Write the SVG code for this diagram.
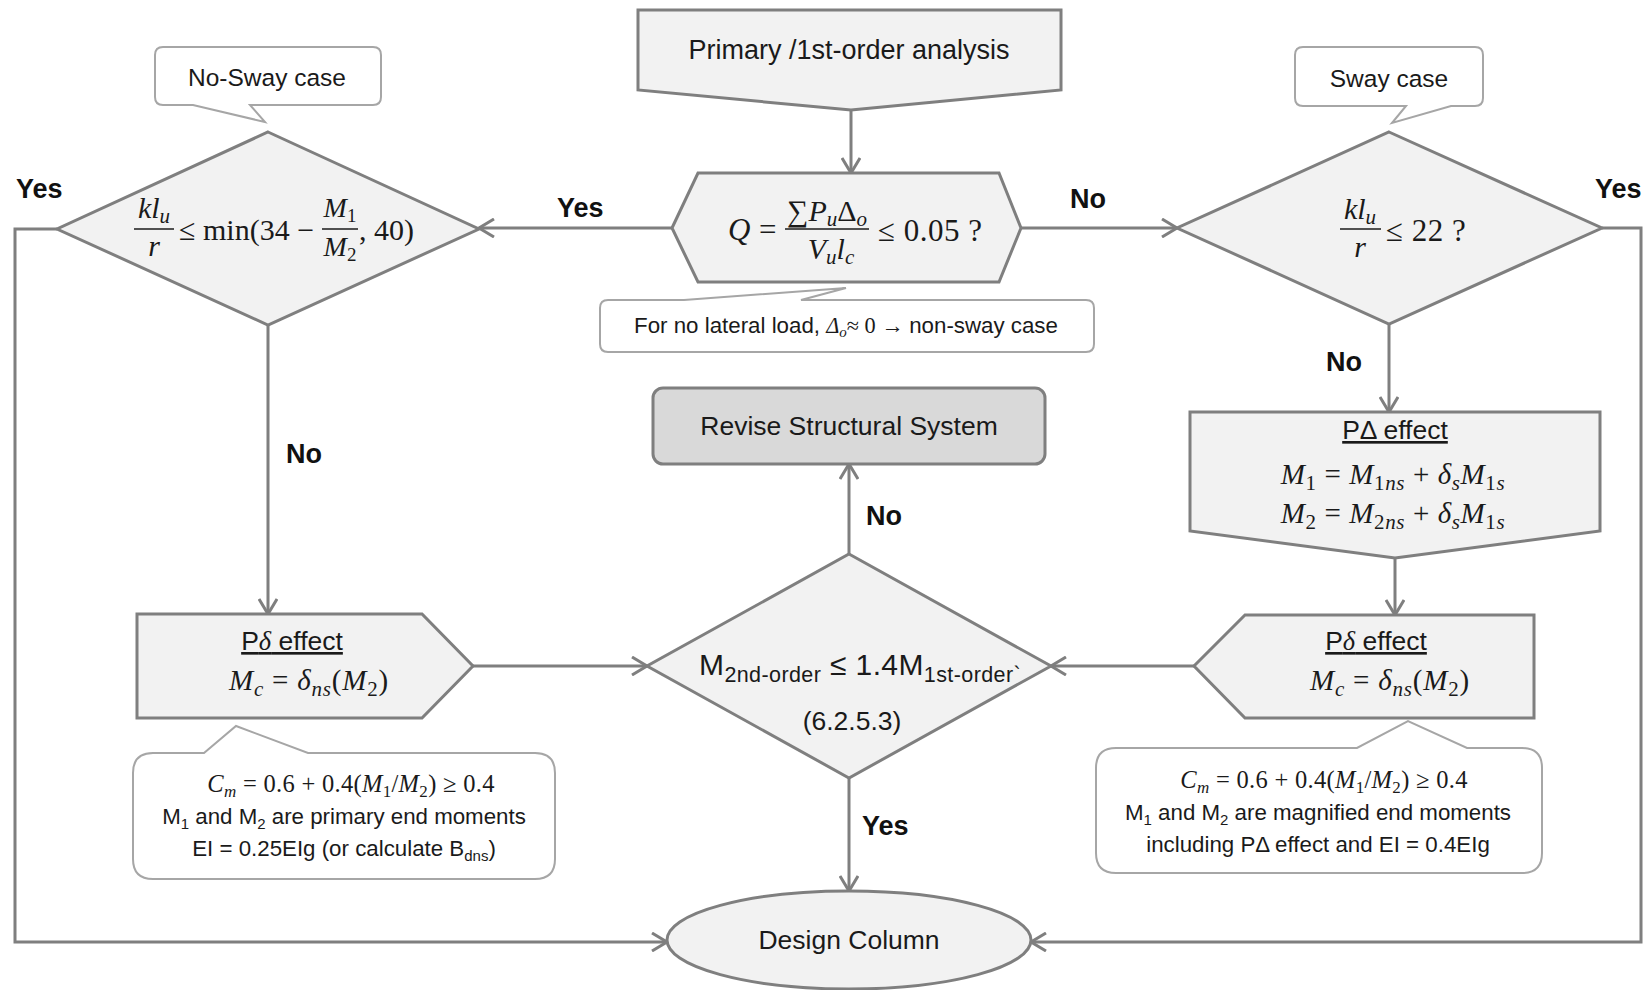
<svg xmlns="http://www.w3.org/2000/svg" width="1648" height="990" viewBox="0 0 1648 990">
<defs>
<style>
.sh{fill:#f2f2f2;stroke:#7f7f7f;stroke-width:3;stroke-linejoin:miter}
.rv{fill:#d9d9d9;stroke:#7f7f7f;stroke-width:3}
.co{fill:#ffffff;stroke:#a6a6a6;stroke-width:2}
.cn{fill:none;stroke:#7f7f7f;stroke-width:3}
.t{font-family:"Liberation Sans",Arial,sans-serif;fill:#1a1a1a}
.lb{font-family:"Liberation Sans",Arial,sans-serif;font-weight:bold;font-size:27px;fill:#111}
.m{font-family:"Liberation Serif","DejaVu Serif",serif;fill:#1a1a1a}
.i{font-style:italic}
.bar{stroke:#1a1a1a;stroke-width:1.5}
</style>
<marker id="ah" viewBox="0 0 20 20" refX="16" refY="10" markerWidth="20" markerHeight="20" markerUnits="userSpaceOnUse" orient="auto">
<path d="M1,1 L16,10 L1,19" fill="none" stroke="#7f7f7f" stroke-width="3"/>
</marker>
</defs>
<rect width="1648" height="990" fill="#ffffff"/>

<g id="connectors">
<path class="cn" d="M851,110 L851,173" marker-end="url(#ah)"/>
<path class="cn" d="M672,228 L479,228" marker-end="url(#ah)"/>
<path class="cn" d="M1021,228 L1177,228" marker-end="url(#ah)"/>
<path class="cn" d="M268,325 L268,614" marker-end="url(#ah)"/>
<path class="cn" d="M57,229 L15,229 L15,942 L667,942" marker-end="url(#ah)"/>
<path class="cn" d="M1602,228 L1641,228 L1641,942 L1031,942" marker-end="url(#ah)"/>
<path class="cn" d="M1389,324 L1389,412" marker-end="url(#ah)"/>
<path class="cn" d="M1395,558 L1395,615" marker-end="url(#ah)"/>
<path class="cn" d="M473,666 L647,666" marker-end="url(#ah)"/>
<path class="cn" d="M1194,666 L1051,666" marker-end="url(#ah)"/>
<path class="cn" d="M849,554 L849,464" marker-end="url(#ah)"/>
<path class="cn" d="M849,778 L849,891" marker-end="url(#ah)"/>
<text class="lb" x="16" y="198">Yes</text>
<text class="lb" x="557" y="217">Yes</text>
<text class="lb" x="1070" y="208">No</text>
<text class="lb" x="1595" y="198">Yes</text>
<text class="lb" x="286" y="463">No</text>
<text class="lb" x="1326" y="371">No</text>
<text class="lb" x="866" y="525">No</text>
<text class="lb" x="862" y="835">Yes</text>
</g>

<g id="primary">
<polygon class="sh" points="638,10 1061,10 1061,90 851,110 638,90"/>
<text class="t" x="849" y="59" font-size="27" text-anchor="middle">Primary /1st-order analysis</text>
</g>

<g id="q-check">
<polygon class="sh" points="672,228 698,173 999,173 1021,228 999,282 698,282"/>
<text class="m i" x="728" y="240" font-size="31">Q</text>
<text class="m" x="759" y="240" font-size="31">=</text>
<text class="m" x="827" y="221" font-size="30" text-anchor="middle">∑<tspan class="i">P</tspan><tspan class="i" font-size="21" dy="5">u</tspan><tspan dy="-5">Δ</tspan><tspan class="i" font-size="21" dy="5">o</tspan></text>
<line class="bar" x1="785" y1="229" x2="869" y2="229"/>
<text class="m" x="831" y="259" font-size="30" text-anchor="middle"><tspan class="i">V</tspan><tspan class="i" font-size="21" dy="5">u</tspan><tspan class="i" dy="-5">l</tspan><tspan class="i" font-size="21" dy="5">c</tspan></text>
<text class="m" x="878" y="241" font-size="31" letter-spacing="0.5">≤ 0.05 ?</text>
</g>

<g id="q-note">
<path class="co" d="M608,300 H684 L846,288 L801,300 H1086 Q1094,300 1094,308 V344 Q1094,352 1086,352 H608 Q600,352 600,344 V308 Q600,300 608,300 Z"/>
<text class="t" x="846" y="333" font-size="22.3" text-anchor="middle">For no lateral  load, <tspan class="m i">Δ</tspan><tspan class="m i" font-size="15" dy="4">o</tspan><tspan class="m" dy="-4">≈ 0 → </tspan>non-sway case</text>
</g>

<g id="nosway-label">
<path class="co" d="M163,47 H373 Q381,47 381,55 V97 Q381,105 373,105 H250 L265,122 L193,105 H163 Q155,105 155,97 V55 Q155,47 163,47 Z"/>
<text class="t" x="267" y="86" font-size="24.5" text-anchor="middle">No-Sway case</text>
</g>

<g id="sway-label">
<path class="co" d="M1303,47 H1475 Q1483,47 1483,55 V98 Q1483,106 1475,106 H1451 L1392,123 L1406,106 H1303 Q1295,106 1295,98 V55 Q1295,47 1303,47 Z"/>
<text class="t" x="1389" y="87" font-size="24.5" text-anchor="middle">Sway case</text>
</g>

<g id="nosway-check">
<polygon class="sh" points="268,132 479,229 268,325 57,229"/>
<text class="m" x="154" y="218" font-size="30" text-anchor="middle"><tspan class="i">kl</tspan><tspan class="i" font-size="21" dy="5">u</tspan></text>
<line class="bar" x1="134" y1="229" x2="174" y2="229"/>
<text class="m i" x="154" y="256" font-size="30" text-anchor="middle">r</text>
<text class="m" x="179" y="240" font-size="30">≤ min(34 −</text>
<text class="m" x="340" y="217" font-size="28" text-anchor="middle"><tspan class="i">M</tspan><tspan font-size="19" dy="5">1</tspan></text>
<line class="bar" x1="322" y1="229" x2="358" y2="229"/>
<text class="m" x="340" y="256" font-size="28" text-anchor="middle"><tspan class="i">M</tspan><tspan font-size="19" dy="5">2</tspan></text>
<text class="m" x="359" y="240" font-size="30">, 40)</text>
</g>

<g id="sway-check">
<polygon class="sh" points="1389,132 1602,228 1389,324 1177,228"/>
<text class="m" x="1360" y="219" font-size="30" text-anchor="middle"><tspan class="i">kl</tspan><tspan class="i" font-size="21" dy="5">u</tspan></text>
<line class="bar" x1="1340" y1="229" x2="1381" y2="229"/>
<text class="m i" x="1360" y="257" font-size="30" text-anchor="middle">r</text>
<text class="m" x="1386" y="241" font-size="31" letter-spacing="0.5">≤ 22 ?</text>
</g>

<g id="pdelta-sway">
<polygon class="sh" points="1190,412 1600,412 1600,531 1395,558 1190,531"/>
<text class="t" x="1395" y="439" font-size="26.5" text-anchor="middle" text-decoration="underline">PΔ effect</text>
<text class="m" x="1393" y="484" font-size="29" letter-spacing="0.6" text-anchor="middle"><tspan class="i">M</tspan><tspan font-size="21" dy="6">1</tspan><tspan dy="-6"> = </tspan><tspan class="i">M</tspan><tspan font-size="21" dy="6">1</tspan><tspan class="i" font-size="21">ns</tspan><tspan dy="-6"> + </tspan><tspan class="i">δ</tspan><tspan class="i" font-size="21" dy="6">s</tspan><tspan class="i" dy="-6">M</tspan><tspan font-size="21" dy="6">1</tspan><tspan class="i" font-size="21">s</tspan></text>
<text class="m" x="1393" y="523" font-size="29" letter-spacing="0.6" text-anchor="middle"><tspan class="i">M</tspan><tspan font-size="21" dy="6">2</tspan><tspan dy="-6"> = </tspan><tspan class="i">M</tspan><tspan font-size="21" dy="6">2</tspan><tspan class="i" font-size="21">ns</tspan><tspan dy="-6"> + </tspan><tspan class="i">δ</tspan><tspan class="i" font-size="21" dy="6">s</tspan><tspan class="i" dy="-6">M</tspan><tspan font-size="21" dy="6">1</tspan><tspan class="i" font-size="21">s</tspan></text>
</g>

<g id="pdelta-small-nosway">
<polygon class="sh" points="137,614 422,614 473,666 422,718 137,718"/>
<text class="t" x="292" y="650" font-size="26.5" text-anchor="middle" text-decoration="underline">P<tspan class="m i">δ</tspan> effect</text>
<text class="m" x="309" y="690" font-size="29" letter-spacing="0.8" text-anchor="middle"><tspan class="i">M</tspan><tspan class="i" font-size="21" dy="6">c</tspan><tspan dy="-6"> = </tspan><tspan class="i">δ</tspan><tspan class="i" font-size="21" dy="6">ns</tspan><tspan dy="-6">(</tspan><tspan class="i">M</tspan><tspan font-size="21" dy="6">2</tspan><tspan dy="-6">)</tspan></text>
</g>

<g id="pdelta-small-sway">
<polygon class="sh" points="1245,615 1534,615 1534,718 1245,718 1194,666"/>
<text class="t" x="1376" y="650" font-size="26.5" text-anchor="middle" text-decoration="underline">P<tspan class="m i">δ</tspan> effect</text>
<text class="m" x="1390" y="690" font-size="29" letter-spacing="0.8" text-anchor="middle"><tspan class="i">M</tspan><tspan class="i" font-size="21" dy="6">c</tspan><tspan dy="-6"> = </tspan><tspan class="i">δ</tspan><tspan class="i" font-size="21" dy="6">ns</tspan><tspan dy="-6">(</tspan><tspan class="i">M</tspan><tspan font-size="21" dy="6">2</tspan><tspan dy="-6">)</tspan></text>
</g>

<g id="revise">
<rect class="rv" x="653" y="388" width="392" height="76" rx="10"/>
<text class="t" x="849" y="435" font-size="26.5" text-anchor="middle">Revise Structural System</text>
</g>

<g id="moment-check">
<polygon class="sh" points="849,554 1051,666 849,778 647,666"/>
<text class="t" x="699" y="675" font-size="30" letter-spacing="0.4">M<tspan font-size="21.5" dy="7">2nd-order</tspan><tspan dy="-7"> ≤ 1.4M</tspan><tspan font-size="21.5" dy="7">1st-order`</tspan></text>
<text class="t" x="852" y="730" font-size="26.5" text-anchor="middle">(6.2.5.3)</text>
</g>

<g id="design-column">
<ellipse class="sh" cx="849" cy="940" rx="182" ry="49"/>
<text class="t" x="849" y="949" font-size="26.5" text-anchor="middle">Design Column</text>
</g>

<g id="nosway-note">
<path class="co" d="M153,753 H204 L236,726 L308,753 H535 Q555,753 555,773 V859 Q555,879 535,879 H153 Q133,879 133,859 V773 Q133,753 153,753 Z"/>
<text class="m" x="351" y="792" font-size="24.5" letter-spacing="0.3" text-anchor="middle"><tspan class="i">C</tspan><tspan class="i" font-size="17" dy="5">m</tspan><tspan dy="-5"> = 0.6 + 0.4(</tspan><tspan class="i">M</tspan><tspan font-size="17" dy="5">1</tspan><tspan dy="-5">/</tspan><tspan class="i">M</tspan><tspan font-size="17" dy="5">2</tspan><tspan dy="-5">) ≥ 0.4</tspan></text>
<text class="t" x="344" y="824" font-size="22.3" text-anchor="middle">M<tspan font-size="15" dy="5">1</tspan><tspan dy="-5"> and M</tspan><tspan font-size="15" dy="5">2</tspan><tspan dy="-5"> are primary end moments</tspan></text>
<text class="t" x="344" y="856" font-size="22.3" text-anchor="middle">EI = 0.25EIg (or calculate B<tspan font-size="15" dy="5">dns</tspan><tspan dy="-5">)</tspan></text>
</g>

<g id="sway-note">
<path class="co" d="M1116,748 H1357 L1408,721 L1467,748 H1522 Q1542,748 1542,768 V853 Q1542,873 1522,873 H1116 Q1096,873 1096,853 V768 Q1096,748 1116,748 Z"/>
<text class="m" x="1324" y="788" font-size="24.5" letter-spacing="0.3" text-anchor="middle"><tspan class="i">C</tspan><tspan class="i" font-size="17" dy="5">m</tspan><tspan dy="-5"> = 0.6 + 0.4(</tspan><tspan class="i">M</tspan><tspan font-size="17" dy="5">1</tspan><tspan dy="-5">/</tspan><tspan class="i">M</tspan><tspan font-size="17" dy="5">2</tspan><tspan dy="-5">) ≥ 0.4</tspan></text>
<text class="t" x="1318" y="820" font-size="22.3" text-anchor="middle">M<tspan font-size="15" dy="5">1</tspan><tspan dy="-5"> and M</tspan><tspan font-size="15" dy="5">2</tspan><tspan dy="-5"> are magnified end moments</tspan></text>
<text class="t" x="1318" y="852" font-size="22.3" text-anchor="middle">including PΔ effect and EI = 0.4EIg</text>
</g>
</svg>
